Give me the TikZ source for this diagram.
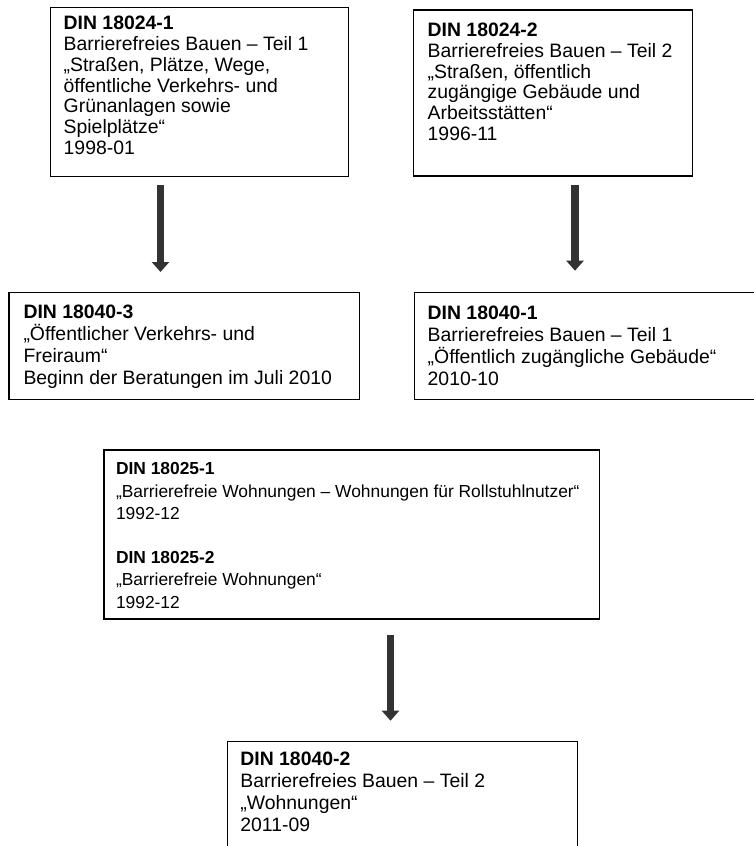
\documentclass[tikz,border=0pt]{standalone}
\usepackage{fontspec}
\setmainfont{Liberation Sans}
\usetikzlibrary{arrows.meta}
\definecolor{arrowgray}{RGB}{51,51,51}
\tikzset{
  normbox/.style={draw=black, line width=1.2pt, fill=none, rectangle, inner sep=0pt, anchor=north west},
  normtext/.style={anchor=north west, inner sep=0pt, align=left, font=\fontsize{19.4}{22}\selectfont},
  tighttext/.style={normtext, font=\fontsize{19.4}{20.8}\selectfont},
  smalltext/.style={normtext, font=\fontsize{17.4}{22.2}\selectfont},
  fatarrow/.style={draw=arrowgray, line width=7.5pt, -{Triangle[width=17pt,length=10pt]}}
}
\begin{document}
\begin{tikzpicture}[x=1pt,y=-1pt]
\clip (0,0) rectangle (754,846);
\node [normbox, minimum width=298pt, minimum height=169.5pt] (din240241) at (50,6.5) {};
\node [normbox, minimum width=279pt, minimum height=166pt] (din240242) at (413,9.3) {};
\node [normbox, minimum width=350.7pt, minimum height=107.3pt] (din180403) at (8.3,291.7) {};
\node [normbox, minimum width=345pt, minimum height=107.3pt] (din180401) at (413.5,291.7) {};
\node [normbox, minimum width=495.7pt, minimum height=169pt] (din18025) at (103.3,449.3) {};
\node [normbox, minimum width=350pt, minimum height=115pt] (din180402) at (226.7,740.7) {};
\node [tighttext] (txt240241) at ([shift={(13.5,9.5)}]din240241.north west)
  {\textbf{DIN 18024-1}\\Barrierefreies Bauen – Teil 1\\„Straßen, Plätze, Wege,\\öffentliche Verkehrs- und\\Grünanlagen sowie\\Spielplätze“\\1998-01};
\node [tighttext] (txt240242) at ([shift={(14.5,13.4)}]din240242.north west)
  {\textbf{DIN 18024-2}\\Barrierefreies Bauen – Teil 2\\„Straßen, öffentlich\\zugängige Gebäude und\\Arbeitsstätten“\\1996-11};
\node [normtext] (txt180403) at ([shift={(15,13.3)}]din180403.north west)
  {\textbf{DIN 18040-3}\\„Öffentlicher Verkehrs- und\\Freiraum“\\Beginn der Beratungen im Juli 2010};
\node [normtext] (txt180401) at ([shift={(14,14.3)}]din180401.north west)
  {\textbf{DIN 18040-1}\\Barrierefreies Bauen – Teil 1\\„Öffentlich zugängliche Gebäude“\\2010-10};
\node [smalltext] (txt18025) at ([shift={(12.5,13.2)}]din18025.north west)
  {\textbf{DIN 18025-1}\\„Barrierefreie Wohnungen – Wohnungen für Rollstuhlnutzer“\\1992-12\\[22.2pt]\textbf{DIN 18025-2}\\„Barrierefreie Wohnungen“\\1992-12};
\node [normtext] (txt180402) at ([shift={(13.5,11.3)}]din180402.north west)
  {\textbf{DIN 18040-2}\\Barrierefreies Bauen – Teil 2\\„Wohnungen“\\2011-09};
\coordinate (a1s) at (160.5,185);
\coordinate (a1e) at (160.5,272);
\coordinate (a2s) at (575,185);
\coordinate (a2e) at (575,270.7);
\coordinate (a3s) at (390.5,635);
\coordinate (a3e) at (390.5,720.7);
\draw [fatarrow] (a1s) -- (a1e);
\draw [fatarrow] (a2s) -- (a2e);
\draw [fatarrow] (a3s) -- (a3e);
\end{tikzpicture}
\end{document}
